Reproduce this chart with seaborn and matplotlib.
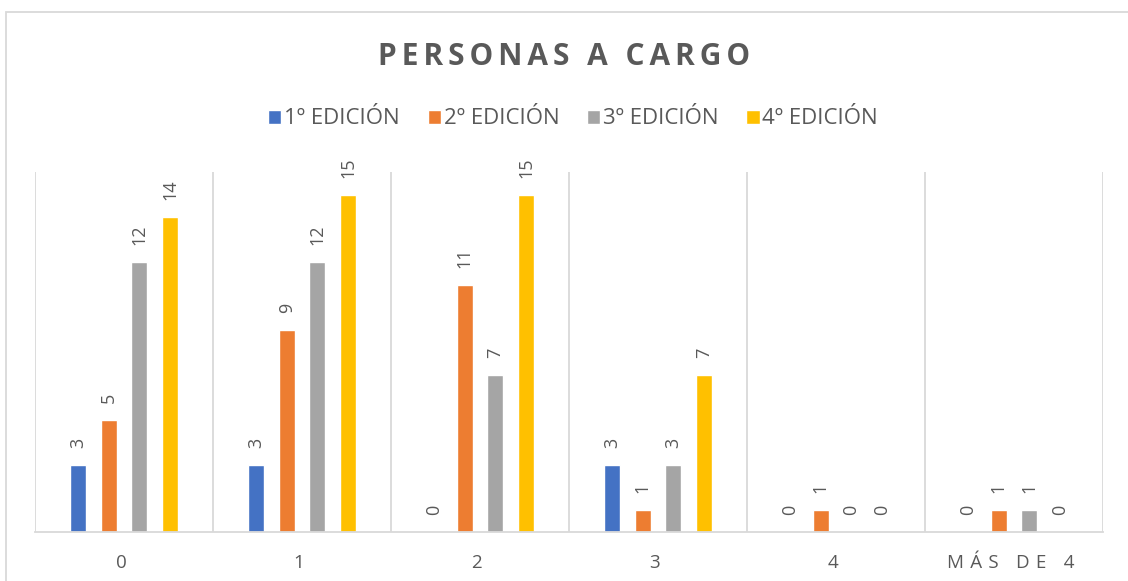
import matplotlib
matplotlib.use("Agg")
import matplotlib.pyplot as plt
import seaborn as sns
import pandas as pd
from matplotlib.patches import Rectangle

categories = ["0", "1", "2", "3", "4", "MÁS DE 4"]
series_names = ["1º EDICIÓN", "2º EDICIÓN", "3º EDICIÓN", "4º EDICIÓN"]
ed1 = [3, 3, 0, 3, 0, 0]
ed2 = [5, 9, 11, 1, 1, 1]
ed3 = [12, 12, 7, 3, 0, 1]
ed4 = [14, 15, 15, 7, 0, 0]
colors = ["#4472C4", "#ED7D31", "#A5A5A5", "#FFC000"]
title = "PERSONAS A CARGO"

THIN = "\u2009"
SIXTH = "\u2006"


def spaced(s, sep):
    return sep.join(s)


def spaced_tick(s):
    return (THIN * 2).join(s) + THIN * 2


rows = []
for name, vals in zip(series_names, [ed1, ed2, ed3, ed4]):
    for c, v in zip(categories, vals):
        rows.append({"cat": c, "serie": name, "valor": v})
df = pd.DataFrame(rows)

sns.set_theme(style="white")
plt.rcParams["font.family"] = ["Open Sans", "DejaVu Sans"]

fig = plt.figure(figsize=(11.28, 5.81), dpi=100)
ax = fig.add_axes([35 / 1128, 1 - 532 / 581, (1103 - 35) / 1128, (532 - 172) / 581])

sns.barplot(data=df, x="cat", y="valor", hue="serie", order=categories,
            hue_order=series_names, palette=colors, width=0.69, gap=0.48,
            saturation=1, ax=ax, legend=True, errorbar=None)

ax.set_xlim(-0.5, len(categories) - 0.5)
ax.set_ylim(0, 16)
ax.set_xlabel("")
ax.set_ylabel("")
ax.set_yticks([])

for cont in ax.containers:
    ax.bar_label(cont, labels=[f"{int(v)}" for v in cont.datavalues],
                 rotation=90, padding=12, fontsize=13, color="#595959")

ax.set_xticks(range(len(categories)))
ax.set_xticklabels([spaced_tick(c) for c in categories], fontsize=13.5, color="#595959")
ax.tick_params(axis="x", length=0, pad=16)
ax.set_xticks([k + 0.5 for k in range(-1, len(categories))], minor=True)
ax.grid(False)
ax.grid(True, which="minor", axis="x", color="#D9D9D9", linewidth=1.3)
ax.tick_params(axis="x", which="minor", length=0)

for s in ["top", "right", "left"]:
    ax.spines[s].set_visible(False)
ax.spines["bottom"].set_color("#D9D9D9")
ax.spines["bottom"].set_linewidth(1.3)

handles, labels = ax.get_legend_handles_labels()
ax.get_legend().remove()
fig.legend(handles, labels, loc="center", bbox_to_anchor=(573 / 1128, 1 - 119 / 581),
           ncol=4, frameon=False, fontsize=16, handlelength=0.6,
           handleheight=0.6, handletextpad=0.12, columnspacing=1.25,
           labelcolor="#595959")

fig.text(0.5, 1 - 57 / 581, spaced(title, SIXTH), ha="center", va="center",
         fontsize=21.5, fontweight="bold", color="#595959")

fig.patches.append(Rectangle((6 / 1128, -0.1), 1.2, 1 - 12.5 / 581 + 0.1,
                             transform=fig.transFigure, fill=False,
                             edgecolor="#D9D9D9", linewidth=1.3))

fig.savefig("out.png", dpi=100)
